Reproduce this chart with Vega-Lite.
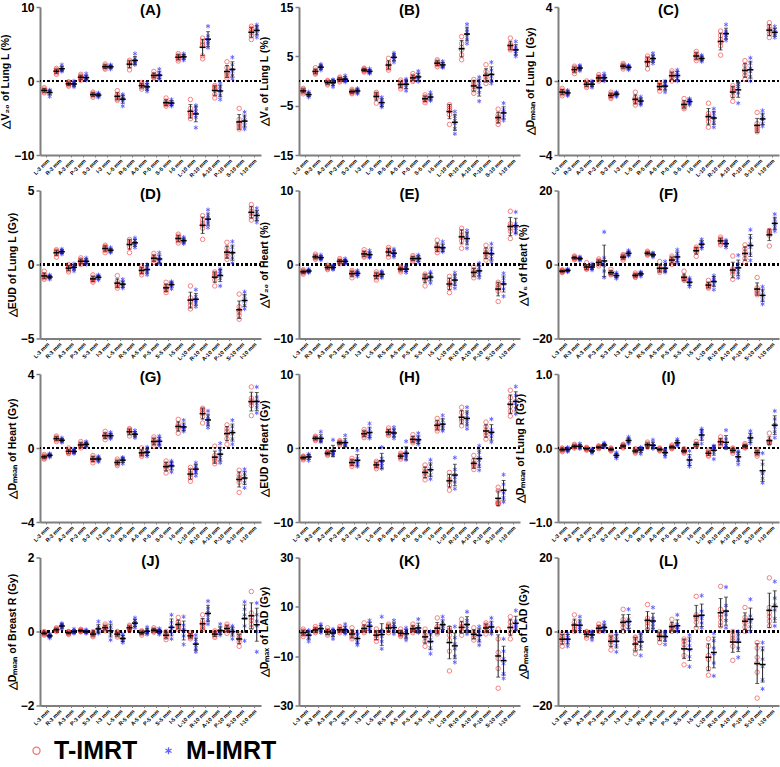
{
"$schema":"https://vega.github.io/schema/vega-lite/v6.json",
"background":"white",
"padding":{"left":0,"top":1,"right":0,"bottom":0},
"columns":3,
"spacing":{"row":35.5,"column":38},
"bounds":"flush",
"datasets":{
"A":[
{"c":"L-3 mm","T-IMRT":[-1.6,-1.45,-1.3,-1.25,-1.1,-0.9],"M-IMRT":[-2.1,-1.7,-1.5,-1.45,-1.35,-1.2]},
{"c":"R-3 mm","T-IMRT":[0.9,1.1,1.3,1.4,1.5,1.7],"M-IMRT":[1.3,1.45,1.55,1.65,1.8,2.2]},
{"c":"A-3 mm","T-IMRT":[-0.7,-0.55,-0.4,-0.35,-0.2,-0.1],"M-IMRT":[-0.8,-0.6,-0.45,-0.35,-0.2,0]},
{"c":"P-3 mm","T-IMRT":[0.1,0.3,0.45,0.55,0.7,0.9],"M-IMRT":[0.1,0.25,0.35,0.45,0.6,1.0]},
{"c":"S-3 mm","T-IMRT":[-2.2,-2.0,-1.85,-1.8,-1.65,-1.5],"M-IMRT":[-2.2,-2.05,-1.95,-1.85,-1.75,-1.6]},
{"c":"I-3 mm","T-IMRT":[1.6,1.75,1.9,1.95,2.1,2.3],"M-IMRT":[1.6,1.8,1.9,1.95,2.05,2.2]},
{"c":"L-5 mm","T-IMRT":[-2.6,-2.45,-2.2,-2.1,-1.8,-1.3],"M-IMRT":[-3.4,-2.7,-2.45,-2.3,-2.1,-1.8]},
{"c":"R-5 mm","T-IMRT":[1.5,2.0,2.3,2.45,2.6,2.8],"M-IMRT":[2.2,2.4,2.6,2.75,3.0,3.7]},
{"c":"A-5 mm","T-IMRT":[-1.1,-0.85,-0.65,-0.55,-0.4,-0.2],"M-IMRT":[-1.4,-1.1,-0.85,-0.7,-0.5,-0.2]},
{"c":"P-5 mm","T-IMRT":[0.4,0.5,0.65,0.75,0.9,1.3],"M-IMRT":[0.2,0.45,0.65,0.8,1.0,1.6]},
{"c":"S-5 mm","T-IMRT":[-3.4,-3.2,-3.05,-2.95,-2.7,-2.3],"M-IMRT":[-3.4,-3.2,-3.05,-2.95,-2.8,-2.5]},
{"c":"I-5 mm","T-IMRT":[2.7,2.95,3.15,3.3,3.45,3.7],"M-IMRT":[2.8,3.05,3.2,3.35,3.5,3.7]},
{"c":"L-10 mm","T-IMRT":[-5.1,-4.7,-4.4,-4.2,-3.7,-2.5],"M-IMRT":[-6.3,-4.9,-4.4,-4.1,-3.7,-3.3]},
{"c":"R-10 mm","T-IMRT":[3.0,3.4,4.8,5.0,5.3,5.8],"M-IMRT":[4.5,5.0,5.3,5.6,6.1,7.4]},
{"c":"A-10 mm","T-IMRT":[-2.3,-1.8,-1.2,-1.0,-0.8,-0.6],"M-IMRT":[-2.5,-1.9,-1.4,-1.2,-0.8,-0.3]},
{"c":"P-10 mm","T-IMRT":[0.4,0.7,1.0,1.2,1.8,2.6],"M-IMRT":[0.3,0.8,1.3,1.6,2.2,3.2]},
{"c":"S-10 mm","T-IMRT":[-6.5,-6.2,-5.9,-5.7,-5.2,-3.7],"M-IMRT":[-6.5,-6.0,-5.6,-5.3,-4.9,-4.2]},
{"c":"I-10 mm","T-IMRT":[5.6,6.1,6.5,6.8,7.1,7.4],"M-IMRT":[5.9,6.4,6.8,7.0,7.3,7.6]}
],
"B":[
{"c":"L-3 mm","T-IMRT":[-2.6,-2.3,-2.05,-1.9,-1.7,-1.5],"M-IMRT":[-3.3,-3.0,-2.85,-2.7,-2.5,-2.2]},
{"c":"R-3 mm","T-IMRT":[1.4,1.6,1.8,1.95,2.2,2.7],"M-IMRT":[2.2,2.5,2.75,2.9,3.1,3.4]},
{"c":"A-3 mm","T-IMRT":[-0.8,-0.55,-0.35,-0.25,-0.05,0.1],"M-IMRT":[-1.2,-0.7,-0.35,-0.15,0.1,0.3]},
{"c":"P-3 mm","T-IMRT":[-0.2,0.05,0.25,0.4,0.6,0.8],"M-IMRT":[-0.2,0.0,0.25,0.4,0.7,1.1]},
{"c":"S-3 mm","T-IMRT":[-2.6,-2.4,-2.25,-2.1,-1.95,-1.7],"M-IMRT":[-2.6,-2.3,-2.05,-1.9,-1.75,-1.5]},
{"c":"I-3 mm","T-IMRT":[1.8,2.0,2.15,2.3,2.45,2.6],"M-IMRT":[1.5,1.7,1.85,2.0,2.2,2.5]},
{"c":"L-5 mm","T-IMRT":[-4.5,-3.4,-3.1,-2.9,-2.6,-2.3],"M-IMRT":[-5.3,-5.0,-4.6,-4.3,-3.8,-3.3]},
{"c":"R-5 mm","T-IMRT":[2.2,2.6,3.0,3.3,3.7,4.6],"M-IMRT":[3.8,4.3,4.7,5.0,5.3,5.7]},
{"c":"A-5 mm","T-IMRT":[-1.6,-1.2,-0.8,-0.6,-0.2,0.2],"M-IMRT":[-2.0,-1.3,-0.7,-0.4,0.0,0.4]},
{"c":"P-5 mm","T-IMRT":[-0.1,0.2,0.5,0.7,1.0,1.5],"M-IMRT":[-0.1,0.3,0.6,0.9,1.3,2.0]},
{"c":"S-5 mm","T-IMRT":[-4.4,-4.0,-3.7,-3.5,-3.2,-2.8],"M-IMRT":[-4.0,-3.7,-3.4,-3.2,-2.9,-2.3]},
{"c":"I-5 mm","T-IMRT":[2.9,3.3,3.5,3.7,4.0,4.3],"M-IMRT":[2.7,2.9,3.1,3.3,3.6,4.0]},
{"c":"L-10 mm","T-IMRT":[-8.8,-6.8,-6.0,-5.6,-5.2,-4.8],"M-IMRT":[-10.7,-9.6,-8.6,-8.0,-7.2,-6.2]},
{"c":"R-10 mm","T-IMRT":[4.3,5.3,6.3,6.8,7.6,9.0],"M-IMRT":[7.6,8.5,9.3,9.8,10.4,11.5]},
{"c":"A-10 mm","T-IMRT":[-2.5,-1.8,-1.1,-0.7,-0.2,0.3],"M-IMRT":[-4.1,-2.3,-1.4,-0.9,-0.2,0.8]},
{"c":"P-10 mm","T-IMRT":[-0.5,0.2,0.8,1.2,1.9,3.3],"M-IMRT":[-0.5,0.2,0.9,1.4,2.2,3.8]},
{"c":"S-10 mm","T-IMRT":[-8.8,-8.2,-7.7,-7.3,-6.8,-5.7],"M-IMRT":[-8.0,-7.4,-6.8,-6.3,-5.8,-4.5]},
{"c":"I-10 mm","T-IMRT":[6.3,6.6,6.9,7.2,7.5,8.7],"M-IMRT":[5.0,5.6,6.0,6.4,6.9,8.0]}
],
"C":[
{"c":"L-3 mm","T-IMRT":[-0.8,-0.7,-0.62,-0.58,-0.5,-0.4],"M-IMRT":[-0.8,-0.72,-0.66,-0.62,-0.57,-0.5]},
{"c":"R-3 mm","T-IMRT":[0.4,0.52,0.6,0.65,0.72,0.8],"M-IMRT":[0.55,0.63,0.68,0.72,0.78,0.85]},
{"c":"A-3 mm","T-IMRT":[-0.35,-0.27,-0.2,-0.16,-0.08,0],"M-IMRT":[-0.35,-0.27,-0.2,-0.15,-0.08,0]},
{"c":"P-3 mm","T-IMRT":[0,0.08,0.14,0.18,0.25,0.35],"M-IMRT":[0,0.08,0.14,0.18,0.27,0.4]},
{"c":"S-3 mm","T-IMRT":[-0.95,-0.87,-0.8,-0.76,-0.7,-0.6],"M-IMRT":[-0.85,-0.77,-0.72,-0.68,-0.64,-0.6]},
{"c":"I-3 mm","T-IMRT":[0.65,0.73,0.79,0.82,0.88,0.95],"M-IMRT":[0.6,0.68,0.73,0.77,0.81,0.85]},
{"c":"L-5 mm","T-IMRT":[-1.3,-1.15,-1.05,-0.97,-0.88,-0.6],"M-IMRT":[-1.3,-1.2,-1.12,-1.06,-0.97,-0.85]},
{"c":"R-5 mm","T-IMRT":[0.65,0.9,1.02,1.1,1.22,1.35],"M-IMRT":[0.95,1.08,1.17,1.24,1.33,1.5]},
{"c":"A-5 mm","T-IMRT":[-0.55,-0.4,-0.3,-0.26,-0.18,-0.1],"M-IMRT":[-0.6,-0.42,-0.3,-0.22,-0.12,0]},
{"c":"P-5 mm","T-IMRT":[0,0.15,0.25,0.33,0.43,0.55],"M-IMRT":[0,0.14,0.25,0.33,0.45,0.6]},
{"c":"S-5 mm","T-IMRT":[-1.5,-1.42,-1.33,-1.27,-1.15,-0.95],"M-IMRT":[-1.3,-1.2,-1.12,-1.07,-1.02,-0.95]},
{"c":"I-5 mm","T-IMRT":[1.1,1.22,1.32,1.38,1.48,1.6],"M-IMRT":[1.05,1.13,1.19,1.23,1.3,1.4]},
{"c":"L-10 mm","T-IMRT":[-2.5,-2.2,-2.0,-1.9,-1.75,-1.2],"M-IMRT":[-2.5,-2.25,-2.05,-1.95,-1.75,-1.5]},
{"c":"R-10 mm","T-IMRT":[1.4,1.9,2.1,2.25,2.45,2.7],"M-IMRT":[2.2,2.35,2.48,2.58,2.7,3.05]},
{"c":"A-10 mm","T-IMRT":[-1.1,-0.8,-0.58,-0.48,-0.38,-0.25],"M-IMRT":[-1.2,-0.65,-0.42,-0.3,-0.2,-0.1]},
{"c":"P-10 mm","T-IMRT":[0.1,0.3,0.48,0.6,0.85,1.1],"M-IMRT":[0,0.25,0.5,0.7,0.95,1.25]},
{"c":"S-10 mm","T-IMRT":[-2.75,-2.65,-2.55,-2.45,-2.3,-1.7],"M-IMRT":[-2.45,-2.3,-2.1,-2.0,-1.85,-1.6]},
{"c":"I-10 mm","T-IMRT":[2.35,2.55,2.7,2.8,2.95,3.15],"M-IMRT":[2.35,2.48,2.58,2.65,2.78,2.95]}
],
"D":[
{"c":"L-3 mm","T-IMRT":[-1.0,-0.9,-0.82,-0.77,-0.68,-0.45],"M-IMRT":[-1.0,-0.92,-0.86,-0.82,-0.77,-0.7]},
{"c":"R-3 mm","T-IMRT":[0.5,0.7,0.8,0.85,0.92,1.0],"M-IMRT":[0.7,0.78,0.84,0.88,0.95,1.05]},
{"c":"A-3 mm","T-IMRT":[-0.5,-0.37,-0.27,-0.22,-0.12,0],"M-IMRT":[-0.45,-0.3,-0.22,-0.16,-0.06,0.05]},
{"c":"P-3 mm","T-IMRT":[0,0.1,0.18,0.24,0.33,0.45],"M-IMRT":[0,0.1,0.18,0.24,0.33,0.45]},
{"c":"S-3 mm","T-IMRT":[-1.2,-1.1,-1.02,-0.96,-0.86,-0.7],"M-IMRT":[-1.05,-0.94,-0.87,-0.83,-0.77,-0.7]},
{"c":"I-3 mm","T-IMRT":[0.8,0.95,1.07,1.14,1.22,1.3],"M-IMRT":[0.8,0.88,0.94,0.98,1.05,1.15]},
{"c":"L-5 mm","T-IMRT":[-1.6,-1.45,-1.35,-1.28,-1.15,-0.75],"M-IMRT":[-1.6,-1.48,-1.38,-1.32,-1.2,-1.0]},
{"c":"R-5 mm","T-IMRT":[0.8,1.2,1.38,1.47,1.58,1.7],"M-IMRT":[1.15,1.3,1.42,1.5,1.62,1.8]},
{"c":"A-5 mm","T-IMRT":[-0.7,-0.55,-0.43,-0.36,-0.25,-0.1],"M-IMRT":[-0.7,-0.5,-0.38,-0.3,-0.17,0]},
{"c":"P-5 mm","T-IMRT":[0.15,0.28,0.37,0.44,0.56,0.75],"M-IMRT":[0.05,0.2,0.3,0.38,0.52,0.8]},
{"c":"S-5 mm","T-IMRT":[-1.9,-1.75,-1.63,-1.55,-1.43,-1.2],"M-IMRT":[-1.65,-1.45,-1.36,-1.3,-1.24,-1.15]},
{"c":"I-5 mm","T-IMRT":[1.45,1.6,1.72,1.8,1.92,2.05],"M-IMRT":[1.4,1.5,1.58,1.63,1.72,1.85]},
{"c":"L-10 mm","T-IMRT":[-3.0,-2.75,-2.55,-2.45,-2.25,-1.45],"M-IMRT":[-2.85,-2.6,-2.45,-2.35,-2.15,-1.7]},
{"c":"R-10 mm","T-IMRT":[1.7,2.45,2.65,2.8,3.0,3.3],"M-IMRT":[2.5,2.8,3.0,3.1,3.3,3.7]},
{"c":"A-10 mm","T-IMRT":[-1.45,-1.05,-0.82,-0.72,-0.6,-0.5],"M-IMRT":[-1.45,-0.95,-0.72,-0.6,-0.45,-0.3]},
{"c":"P-10 mm","T-IMRT":[0.35,0.55,0.7,0.82,1.1,1.5],"M-IMRT":[0.1,0.45,0.7,0.85,1.15,1.55]},
{"c":"S-10 mm","T-IMRT":[-3.7,-3.45,-3.25,-3.1,-2.85,-2.0],"M-IMRT":[-3.0,-2.75,-2.5,-2.35,-2.15,-1.85]},
{"c":"I-10 mm","T-IMRT":[3.0,3.25,3.45,3.6,3.8,4.05],"M-IMRT":[2.85,3.05,3.25,3.38,3.55,3.8]}
],
"E":[
{"c":"L-3 mm","T-IMRT":[-1.3,-1.15,-1.02,-0.95,-0.83,-0.7],"M-IMRT":[-1.1,-1.0,-0.92,-0.87,-0.78,-0.6]},
{"c":"R-3 mm","T-IMRT":[0.7,0.85,0.97,1.05,1.2,1.4],"M-IMRT":[0.6,0.75,0.87,0.95,1.07,1.3]},
{"c":"A-3 mm","T-IMRT":[-0.7,-0.55,-0.43,-0.36,-0.24,-0.1],"M-IMRT":[-0.7,-0.55,-0.43,-0.36,-0.24,-0.1]},
{"c":"P-3 mm","T-IMRT":[0.1,0.25,0.37,0.45,0.6,0.8],"M-IMRT":[0.1,0.25,0.37,0.45,0.6,0.8]},
{"c":"S-3 mm","T-IMRT":[-1.8,-1.45,-1.25,-1.15,-1.0,-0.8],"M-IMRT":[-1.6,-1.4,-1.25,-1.15,-1.0,-0.8]},
{"c":"I-3 mm","T-IMRT":[1.0,1.15,1.32,1.45,1.65,2.0],"M-IMRT":[0.9,1.05,1.22,1.35,1.55,1.9]},
{"c":"L-5 mm","T-IMRT":[-2.1,-1.8,-1.55,-1.42,-1.25,-1.0],"M-IMRT":[-1.8,-1.55,-1.35,-1.25,-1.1,-0.9]},
{"c":"R-5 mm","T-IMRT":[1.0,1.35,1.65,1.8,2.05,2.3],"M-IMRT":[1.0,1.25,1.45,1.58,1.8,2.1]},
{"c":"A-5 mm","T-IMRT":[-1.0,-0.8,-0.63,-0.55,-0.42,-0.3],"M-IMRT":[-1.1,-0.85,-0.65,-0.55,-0.38,-0.2]},
{"c":"P-5 mm","T-IMRT":[0.4,0.6,0.75,0.85,1.0,1.2],"M-IMRT":[0.3,0.55,0.75,0.87,1.05,1.3]},
{"c":"S-5 mm","T-IMRT":[-2.9,-2.1,-1.85,-1.7,-1.5,-1.3],"M-IMRT":[-2.5,-2.0,-1.75,-1.6,-1.35,-1.0]},
{"c":"I-5 mm","T-IMRT":[1.6,1.95,2.2,2.35,2.6,3.3],"M-IMRT":[1.7,1.9,2.1,2.25,2.55,3.1]},
{"c":"L-10 mm","T-IMRT":[-3.8,-3.1,-2.7,-2.5,-2.1,-1.6],"M-IMRT":[-3.2,-2.6,-2.2,-1.95,-1.6,-1.1]},
{"c":"R-10 mm","T-IMRT":[2.2,3.2,3.7,4.0,4.4,4.9],"M-IMRT":[2.2,3.0,3.4,3.7,4.1,4.6]},
{"c":"A-10 mm","T-IMRT":[-1.8,-1.45,-1.15,-1.0,-0.7,-0.3],"M-IMRT":[-1.8,-1.35,-1.0,-0.8,-0.4,0.2]},
{"c":"P-10 mm","T-IMRT":[0.6,1.0,1.4,1.6,2.0,2.6],"M-IMRT":[0.3,0.85,1.3,1.55,2.0,2.8]},
{"c":"S-10 mm","T-IMRT":[-5.0,-3.6,-3.2,-3.0,-2.7,-2.4],"M-IMRT":[-4.3,-3.3,-2.7,-2.4,-1.9,-1.2]},
{"c":"I-10 mm","T-IMRT":[3.5,4.5,4.9,5.2,5.5,7.2],"M-IMRT":[4.2,4.6,4.9,5.1,5.5,7.1]}
],
"F":[
{"c":"L-3 mm","T-IMRT":[-2.2,-2.0,-1.85,-1.75,-1.6,-1.4],"M-IMRT":[-2.0,-1.8,-1.65,-1.55,-1.4,-1.2]},
{"c":"R-3 mm","T-IMRT":[1.3,1.55,1.75,1.85,2.05,2.3],"M-IMRT":[1.1,1.35,1.55,1.65,1.85,2.1]},
{"c":"A-3 mm","T-IMRT":[-1.3,-1.1,-0.9,-0.75,-0.5,0.5],"M-IMRT":[-1.5,-1.1,-0.8,-0.6,-0.3,0.2]},
{"c":"P-3 mm","T-IMRT":[-0.4,0.1,0.5,0.7,1.1,1.5],"M-IMRT":[-3.5,-1.8,-0.3,0.8,1.8,8.8]},
{"c":"S-3 mm","T-IMRT":[-2.8,-2.55,-2.35,-2.25,-2.0,-1.3],"M-IMRT":[-3.8,-3.4,-3.1,-2.9,-2.6,-2.2]},
{"c":"I-3 mm","T-IMRT":[1.2,1.6,1.95,2.15,2.4,2.7],"M-IMRT":[2.3,2.6,2.9,3.1,3.4,3.8]},
{"c":"L-5 mm","T-IMRT":[-3.5,-3.25,-3.05,-2.9,-2.7,-2.3],"M-IMRT":[-3.2,-2.85,-2.55,-2.4,-2.2,-2.0]},
{"c":"R-5 mm","T-IMRT":[2.5,2.75,2.95,3.1,3.3,3.6],"M-IMRT":[2.0,2.3,2.55,2.7,2.95,3.2]},
{"c":"A-5 mm","T-IMRT":[-2.1,-1.7,-1.35,-1.15,-0.7,0.8],"M-IMRT":[-2.1,-1.7,-1.35,-1.15,-0.6,0.8]},
{"c":"P-5 mm","T-IMRT":[0,0.6,1.1,1.4,1.8,2.3],"M-IMRT":[0.3,1.1,1.8,2.2,2.9,4.0]},
{"c":"S-5 mm","T-IMRT":[-4.3,-4.0,-3.75,-3.6,-3.3,-1.8],"M-IMRT":[-6.0,-5.4,-4.9,-4.6,-4.2,-3.6]},
{"c":"I-5 mm","T-IMRT":[2.2,3.3,3.8,4.0,4.3,4.7],"M-IMRT":[4.3,4.8,5.3,5.6,6.1,6.8]},
{"c":"L-10 mm","T-IMRT":[-6.4,-6.1,-5.8,-5.6,-5.2,-4.3],"M-IMRT":[-6.8,-5.5,-4.6,-4.2,-3.6,-3.0]},
{"c":"R-10 mm","T-IMRT":[5.3,5.8,6.3,6.6,6.9,7.4],"M-IMRT":[4.6,5.1,5.5,5.8,6.2,6.6]},
{"c":"A-10 mm","T-IMRT":[-4.0,-2.6,-1.9,-1.6,-1.2,2.3],"M-IMRT":[-3.6,-2.3,-1.4,-0.8,0.2,2.5]},
{"c":"P-10 mm","T-IMRT":[0.5,1.6,2.7,3.4,4.3,5.3],"M-IMRT":[1.1,2.9,4.6,5.6,7.2,9.4]},
{"c":"S-10 mm","T-IMRT":[-8.2,-7.7,-7.2,-6.9,-6.3,-3.5],"M-IMRT":[-10.7,-9.5,-8.6,-8.1,-7.2,-6.0]},
{"c":"I-10 mm","T-IMRT":[5.0,7.9,8.4,8.7,8.9,9.2],"M-IMRT":[9.0,9.9,10.7,11.3,12.2,13.6]}
],
"G":[
{"c":"L-3 mm","T-IMRT":[-0.6,-0.55,-0.5,-0.47,-0.42,-0.35],"M-IMRT":[-0.5,-0.45,-0.41,-0.38,-0.34,-0.3]},
{"c":"R-3 mm","T-IMRT":[0.35,0.43,0.49,0.53,0.58,0.65],"M-IMRT":[0.3,0.36,0.4,0.43,0.48,0.55]},
{"c":"A-3 mm","T-IMRT":[-0.3,-0.26,-0.22,-0.18,-0.1,0],"M-IMRT":[-0.3,-0.25,-0.21,-0.18,-0.12,-0.05]},
{"c":"P-3 mm","T-IMRT":[0,0.08,0.14,0.18,0.25,0.35],"M-IMRT":[0.05,0.12,0.18,0.22,0.28,0.35]},
{"c":"S-3 mm","T-IMRT":[-0.8,-0.68,-0.62,-0.57,-0.5,-0.4],"M-IMRT":[-0.75,-0.67,-0.61,-0.57,-0.52,-0.45]},
{"c":"I-3 mm","T-IMRT":[0.45,0.58,0.64,0.68,0.75,0.9],"M-IMRT":[0.5,0.58,0.64,0.68,0.75,0.85]},
{"c":"L-5 mm","T-IMRT":[-0.95,-0.87,-0.81,-0.77,-0.7,-0.6],"M-IMRT":[-0.85,-0.74,-0.67,-0.62,-0.56,-0.5]},
{"c":"R-5 mm","T-IMRT":[0.65,0.78,0.87,0.93,0.99,1.05],"M-IMRT":[0.55,0.65,0.72,0.77,0.84,0.95]},
{"c":"A-5 mm","T-IMRT":[-0.45,-0.37,-0.31,-0.27,-0.17,0],"M-IMRT":[-0.45,-0.35,-0.27,-0.22,-0.12,0.05]},
{"c":"P-5 mm","T-IMRT":[0.1,0.22,0.32,0.38,0.48,0.6],"M-IMRT":[0.1,0.22,0.32,0.39,0.5,0.65]},
{"c":"S-5 mm","T-IMRT":[-1.35,-1.15,-1.03,-0.96,-0.85,-0.7],"M-IMRT":[-1.3,-1.1,-0.98,-0.92,-0.82,-0.7]},
{"c":"I-5 mm","T-IMRT":[0.8,1.05,1.13,1.18,1.28,1.55],"M-IMRT":[0.9,1.0,1.08,1.13,1.22,1.5]},
{"c":"L-10 mm","T-IMRT":[-1.8,-1.6,-1.45,-1.36,-1.2,-1.05],"M-IMRT":[-1.5,-1.3,-1.18,-1.1,-0.98,-0.8]},
{"c":"R-10 mm","T-IMRT":[1.35,1.7,1.88,1.98,2.08,2.15],"M-IMRT":[1.1,1.3,1.45,1.55,1.7,2.0]},
{"c":"A-10 mm","T-IMRT":[-0.85,-0.7,-0.6,-0.53,-0.4,0.1],"M-IMRT":[-0.8,-0.6,-0.42,-0.32,-0.1,0.25]},
{"c":"P-10 mm","T-IMRT":[0.2,0.5,0.75,0.9,1.05,1.25],"M-IMRT":[0.2,0.5,0.75,0.9,1.15,1.5]},
{"c":"S-10 mm","T-IMRT":[-2.4,-1.85,-1.7,-1.6,-1.45,-1.2],"M-IMRT":[-2.15,-1.85,-1.65,-1.55,-1.4,-1.15]},
{"c":"I-10 mm","T-IMRT":[1.75,2.3,2.45,2.55,2.7,3.3],"M-IMRT":[1.9,2.2,2.4,2.55,2.75,3.3]}
],
"H":[
{"c":"L-3 mm","T-IMRT":[-1.6,-1.45,-1.33,-1.27,-1.18,-1.1],"M-IMRT":[-1.7,-1.4,-1.22,-1.12,-0.98,-0.8]},
{"c":"R-3 mm","T-IMRT":[1.0,1.15,1.27,1.35,1.45,1.6],"M-IMRT":[0.8,1.0,1.12,1.22,1.45,2.2]},
{"c":"A-3 mm","T-IMRT":[-1.0,-0.85,-0.73,-0.67,-0.58,-0.5],"M-IMRT":[-1.0,-0.85,-0.7,-0.6,-0.4,1.1]},
{"c":"P-3 mm","T-IMRT":[0.4,0.55,0.67,0.74,0.85,1.0],"M-IMRT":[0.2,0.4,0.55,0.65,0.9,1.7]},
{"c":"S-3 mm","T-IMRT":[-2.5,-2.25,-2.05,-1.92,-1.7,-1.4],"M-IMRT":[-2.5,-2.15,-1.9,-1.75,-1.4,-0.3]},
{"c":"I-3 mm","T-IMRT":[1.4,1.65,1.85,1.97,2.2,2.5],"M-IMRT":[1.3,1.6,1.85,2.05,2.5,3.3]},
{"c":"L-5 mm","T-IMRT":[-2.8,-2.55,-2.35,-2.22,-2.0,-1.8],"M-IMRT":[-2.8,-2.4,-2.1,-1.85,-1.4,0.1]},
{"c":"R-5 mm","T-IMRT":[1.7,1.9,2.05,2.15,2.4,2.7],"M-IMRT":[1.3,1.65,1.95,2.1,2.4,2.8]},
{"c":"A-5 mm","T-IMRT":[-1.5,-1.3,-1.15,-1.05,-0.9,-0.7],"M-IMRT":[-1.6,-1.2,-1.0,-0.85,-0.55,0.9]},
{"c":"P-5 mm","T-IMRT":[0.7,0.9,1.05,1.15,1.4,1.8],"M-IMRT":[0.5,0.75,0.95,1.1,1.4,2.0]},
{"c":"S-5 mm","T-IMRT":[-4.3,-3.8,-3.4,-3.2,-2.8,-2.3],"M-IMRT":[-4.2,-3.6,-3.1,-2.8,-2.3,-1.6]},
{"c":"I-5 mm","T-IMRT":[2.3,2.6,2.9,3.1,3.5,4.0],"M-IMRT":[2.3,2.7,3.0,3.25,3.7,4.4]},
{"c":"L-10 mm","T-IMRT":[-5.7,-5.0,-4.5,-4.3,-3.8,-3.3],"M-IMRT":[-5.5,-4.6,-4.0,-3.6,-2.9,-1.3]},
{"c":"R-10 mm","T-IMRT":[3.0,3.6,3.9,4.1,4.8,5.5],"M-IMRT":[2.6,3.3,3.8,4.1,4.7,5.5]},
{"c":"A-10 mm","T-IMRT":[-2.9,-2.5,-2.25,-2.1,-1.7,-1.0],"M-IMRT":[-3.0,-2.3,-1.7,-1.3,-0.6,0.3]},
{"c":"P-10 mm","T-IMRT":[1.2,1.7,2.1,2.4,2.9,3.5],"M-IMRT":[0.8,1.5,1.9,2.1,2.5,3.9]},
{"c":"S-10 mm","T-IMRT":[-7.6,-7.5,-7.4,-7.2,-5.8,-5.3],"M-IMRT":[-7.3,-6.7,-6.1,-5.7,-4.9,-3.6]},
{"c":"I-10 mm","T-IMRT":[4.3,5.0,5.6,6.0,6.8,7.8],"M-IMRT":[4.6,5.4,6.0,6.4,7.1,8.3]}
],
"I":[
{"c":"L-3 mm","T-IMRT":[-0.05,-0.035,-0.025,-0.02,-0.01,0],"M-IMRT":[-0.05,-0.035,-0.025,-0.015,-0.005,0.01]},
{"c":"R-3 mm","T-IMRT":[0,0.01,0.02,0.025,0.035,0.05],"M-IMRT":[-0.01,0.005,0.015,0.025,0.04,0.06]},
{"c":"A-3 mm","T-IMRT":[-0.03,-0.02,-0.012,-0.008,0,0.01],"M-IMRT":[-0.07,-0.055,-0.045,-0.035,-0.025,-0.01]},
{"c":"P-3 mm","T-IMRT":[-0.01,0,0.008,0.012,0.02,0.03],"M-IMRT":[0.01,0.025,0.035,0.045,0.055,0.07]},
{"c":"S-3 mm","T-IMRT":[-0.04,-0.03,-0.022,-0.018,-0.01,0],"M-IMRT":[-0.14,-0.12,-0.105,-0.095,-0.08,-0.06]},
{"c":"I-3 mm","T-IMRT":[0,0.015,0.025,0.032,0.04,0.05],"M-IMRT":[0.06,0.08,0.095,0.105,0.12,0.15]},
{"c":"L-5 mm","T-IMRT":[-0.07,-0.055,-0.045,-0.038,-0.025,-0.01],"M-IMRT":[-0.08,-0.045,-0.025,-0.015,0,0.01]},
{"c":"R-5 mm","T-IMRT":[0.01,0.025,0.038,0.045,0.06,0.08],"M-IMRT":[-0.01,0.005,0.02,0.035,0.06,0.11]},
{"c":"A-5 mm","T-IMRT":[-0.04,-0.03,-0.022,-0.018,-0.01,0],"M-IMRT":[-0.12,-0.085,-0.065,-0.05,-0.035,-0.02]},
{"c":"P-5 mm","T-IMRT":[-0.01,0,0.008,0.014,0.025,0.04],"M-IMRT":[0.03,0.045,0.06,0.075,0.09,0.12]},
{"c":"S-5 mm","T-IMRT":[-0.07,-0.055,-0.045,-0.038,-0.025,-0.01],"M-IMRT":[-0.25,-0.22,-0.18,-0.16,-0.12,-0.04]},
{"c":"I-5 mm","T-IMRT":[0.02,0.03,0.038,0.045,0.06,0.09],"M-IMRT":[0.06,0.13,0.17,0.2,0.23,0.26]},
{"c":"L-10 mm","T-IMRT":[-0.11,-0.095,-0.075,-0.065,-0.05,-0.03],"M-IMRT":[-0.15,-0.06,-0.02,0,0.015,0.03]},
{"c":"R-10 mm","T-IMRT":[0.03,0.055,0.075,0.09,0.11,0.15],"M-IMRT":[0,0.01,0.03,0.06,0.12,0.24]},
{"c":"A-10 mm","T-IMRT":[-0.07,-0.05,-0.035,-0.025,-0.012,0],"M-IMRT":[-0.22,-0.16,-0.125,-0.1,-0.07,-0.04]},
{"c":"P-10 mm","T-IMRT":[0,0.01,0.02,0.028,0.04,0.06],"M-IMRT":[0.06,0.09,0.12,0.14,0.18,0.23]},
{"c":"S-10 mm","T-IMRT":[-0.11,-0.085,-0.065,-0.055,-0.04,-0.02],"M-IMRT":[-0.47,-0.41,-0.35,-0.32,-0.22,-0.07]},
{"c":"I-10 mm","T-IMRT":[0.06,0.07,0.08,0.09,0.1,0.2],"M-IMRT":[0.14,0.22,0.28,0.32,0.39,0.5]}
],
"J":[
{"c":"L-3 mm","T-IMRT":[-0.1,-0.075,-0.055,-0.045,-0.025,0],"M-IMRT":[-0.18,-0.15,-0.125,-0.11,-0.09,-0.06]},
{"c":"R-3 mm","T-IMRT":[0,0.025,0.045,0.055,0.075,0.1],"M-IMRT":[0.07,0.11,0.14,0.16,0.19,0.22]},
{"c":"A-3 mm","T-IMRT":[-0.08,-0.06,-0.04,-0.025,-0.01,0],"M-IMRT":[-0.05,-0.03,-0.015,0,0.02,0.07]},
{"c":"P-3 mm","T-IMRT":[-0.01,0.005,0.015,0.025,0.04,0.06],"M-IMRT":[-0.05,-0.03,-0.015,0,0.02,0.05]},
{"c":"S-3 mm","T-IMRT":[-0.14,-0.11,-0.08,-0.06,-0.03,0],"M-IMRT":[-0.05,-0.01,0.03,0.07,0.12,0.27]},
{"c":"I-3 mm","T-IMRT":[0.02,0.06,0.09,0.11,0.15,0.2],"M-IMRT":[-0.23,-0.08,0,0.05,0.12,0.25]},
{"c":"L-5 mm","T-IMRT":[-0.15,-0.11,-0.08,-0.06,-0.03,0],"M-IMRT":[-0.3,-0.25,-0.21,-0.18,-0.13,-0.07]},
{"c":"R-5 mm","T-IMRT":[0.03,0.07,0.09,0.11,0.14,0.17],"M-IMRT":[0.1,0.16,0.2,0.24,0.29,0.37]},
{"c":"A-5 mm","T-IMRT":[-0.1,-0.06,-0.035,-0.02,0,0.02],"M-IMRT":[-0.08,-0.04,-0.01,0.01,0.04,0.12]},
{"c":"P-5 mm","T-IMRT":[-0.02,0.005,0.025,0.04,0.06,0.1],"M-IMRT":[-0.08,-0.04,-0.01,0.01,0.04,0.08]},
{"c":"S-5 mm","T-IMRT":[-0.22,-0.16,-0.11,-0.08,-0.04,0],"M-IMRT":[-0.2,-0.05,0.07,0.15,0.25,0.45]},
{"c":"I-5 mm","T-IMRT":[0.05,0.1,0.15,0.19,0.26,0.38],"M-IMRT":[-0.35,-0.12,0,0.06,0.17,0.4]},
{"c":"L-10 mm","T-IMRT":[-0.2,-0.16,-0.13,-0.11,-0.07,-0.03],"M-IMRT":[-0.55,-0.47,-0.38,-0.32,-0.22,-0.1]},
{"c":"R-10 mm","T-IMRT":[0.05,0.1,0.16,0.21,0.28,0.45],"M-IMRT":[0.2,0.32,0.44,0.52,0.63,0.82]},
{"c":"A-10 mm","T-IMRT":[-0.16,-0.12,-0.08,-0.06,-0.02,0.02],"M-IMRT":[-0.1,-0.04,-0.01,0.02,0.08,0.2]},
{"c":"P-10 mm","T-IMRT":[-0.05,0.02,0.07,0.1,0.14,0.2],"M-IMRT":[-0.2,-0.07,0,0.03,0.07,0.15]},
{"c":"S-10 mm","T-IMRT":[-0.4,-0.28,-0.21,-0.17,-0.1,-0.05],"M-IMRT":[-0.25,0.15,0.35,0.45,0.6,0.8]},
{"c":"I-10 mm","T-IMRT":[0.1,0.2,0.3,0.37,0.5,1.08],"M-IMRT":[-0.55,0,0.15,0.28,0.45,0.77]}
],
"K":[
{"c":"L-3 mm","T-IMRT":[-2,-1.2,-0.6,-0.3,0.3,1],"M-IMRT":[-4,-2.6,-1.6,-1,-0.2,0.5]},
{"c":"R-3 mm","T-IMRT":[-0.5,0,0.4,0.7,1.2,2],"M-IMRT":[-0.5,0.2,0.8,1.3,2,3]},
{"c":"A-3 mm","T-IMRT":[-1.5,-0.9,-0.4,-0.1,0.5,1.5],"M-IMRT":[-3,-1.5,-0.6,-0.1,0.4,1]},
{"c":"P-3 mm","T-IMRT":[-0.5,0.1,0.5,0.8,1.3,2],"M-IMRT":[-1,-0.3,0.3,0.8,1.5,3]},
{"c":"S-3 mm","T-IMRT":[-3,-2.2,-1.4,-0.9,-0.1,1.5],"M-IMRT":[-5.5,-4.3,-3.2,-2.6,-1.5,0]},
{"c":"I-3 mm","T-IMRT":[-0.5,0.2,0.8,1.2,2,3.5],"M-IMRT":[0,0.9,1.8,2.4,3.2,4.5]},
{"c":"L-5 mm","T-IMRT":[-4,-2.8,-1.7,-1.2,-0.3,1],"M-IMRT":[-7,-4,-2,-0.8,0.5,6]},
{"c":"R-5 mm","T-IMRT":[-0.5,0.5,1.3,1.8,2.4,3],"M-IMRT":[-1,0.2,1.2,1.9,2.8,4.5]},
{"c":"A-5 mm","T-IMRT":[-2,-1.5,-1,-0.6,-0.1,1],"M-IMRT":[-3.5,-2.2,-1.1,-0.5,0.3,1.5]},
{"c":"P-5 mm","T-IMRT":[-0.5,0.2,0.8,1.2,1.8,3],"M-IMRT":[-0.5,0.2,0.8,1.2,2,5]},
{"c":"S-5 mm","T-IMRT":[-6,-4,-2.3,-1.5,-0.3,1],"M-IMRT":[-9,-6.5,-4.3,-3.2,-1.5,0]},
{"c":"I-5 mm","T-IMRT":[-1,-0.2,0.6,1.1,2,5.5],"M-IMRT":[0.5,1.3,2.2,2.8,3.8,6]},
{"c":"L-10 mm","T-IMRT":[-16,-8,-3.5,-1.5,0.5,1.5],"M-IMRT":[-12.5,-10,-7,-5,-2.5,2]},
{"c":"R-10 mm","T-IMRT":[-1.5,0,1.3,2,3.2,5],"M-IMRT":[-1,0.5,2,3,4.5,8]},
{"c":"A-10 mm","T-IMRT":[-3.5,-2.5,-1.5,-0.8,0,1.5],"M-IMRT":[-5.5,-3.5,-1.8,-0.9,0.3,2]},
{"c":"P-10 mm","T-IMRT":[-1,0.2,1.3,1.9,2.7,3.5],"M-IMRT":[-1,0.2,1.3,2,3.2,5.5]},
{"c":"S-10 mm","T-IMRT":[-23,-15,-11,-8.5,-3,1],"M-IMRT":[-19,-17,-13,-11,-8,-3]},
{"c":"I-10 mm","T-IMRT":[-3,-0.5,1.2,2.2,3.8,6],"M-IMRT":[0.5,1.4,2.3,3,4.3,8.5]}
],
"L":[
{"c":"L-3 mm","T-IMRT":[-4,-3,-2.2,-1.7,-1.1,-0.5],"M-IMRT":[-4,-3,-2.2,-1.7,-1.1,-0.5]},
{"c":"R-3 mm","T-IMRT":[0,0.6,1.2,1.7,2.5,4.5],"M-IMRT":[0,0.6,1.2,1.8,2.6,4]},
{"c":"A-3 mm","T-IMRT":[-1.8,-1.2,-0.8,-0.5,-0.2,0],"M-IMRT":[-2.3,-1.4,-0.9,-0.6,-0.2,0]},
{"c":"P-3 mm","T-IMRT":[0,0.4,0.7,0.9,1.3,2],"M-IMRT":[0,0.5,0.9,1.2,1.5,2.5]},
{"c":"S-3 mm","T-IMRT":[-5,-3.6,-2.7,-2.2,-1.5,-1],"M-IMRT":[-5.5,-3.8,-2.7,-2.1,-1.3,-0.5]},
{"c":"I-3 mm","T-IMRT":[0,1.1,2,2.5,3.2,6],"M-IMRT":[0.5,1.4,2.2,2.7,3.4,6]},
{"c":"L-5 mm","T-IMRT":[-6,-5,-3.5,-2.6,-1.8,-1.5],"M-IMRT":[-6.5,-4,-2.7,-2,-1.2,-0.5]},
{"c":"R-5 mm","T-IMRT":[0.5,1.5,2.3,2.9,3.6,7.3],"M-IMRT":[0.5,1.4,2.2,2.8,3.6,6.5]},
{"c":"A-5 mm","T-IMRT":[-3,-2,-1.3,-1,-0.5,0],"M-IMRT":[-3.5,-2.2,-1.3,-0.9,-0.4,0]},
{"c":"P-5 mm","T-IMRT":[0,0.5,1,1.3,1.8,3.3],"M-IMRT":[0,0.5,1,1.3,2,4.5]},
{"c":"S-5 mm","T-IMRT":[-9,-6.5,-4.5,-3.5,-2.6,-2],"M-IMRT":[-9.5,-6.8,-5,-3.8,-2.5,-1]},
{"c":"I-5 mm","T-IMRT":[1,2.5,3.5,4,4.5,9.5],"M-IMRT":[1,2.3,3.5,4.3,5.5,9.7]},
{"c":"L-10 mm","T-IMRT":[-11.8,-10,-7.5,-6.5,-4,-2],"M-IMRT":[-12,-8.5,-6,-4.5,-2.5,-0.5]},
{"c":"R-10 mm","T-IMRT":[1.5,2.5,3.8,4.5,6,12.2],"M-IMRT":[1,3,4.5,5.5,7,12]},
{"c":"A-10 mm","T-IMRT":[-7.8,-4,-2.5,-1.8,-1,0],"M-IMRT":[-7,-4.5,-2.8,-2,-1,0]},
{"c":"P-10 mm","T-IMRT":[0,1.2,2.3,2.9,3.8,6.5],"M-IMRT":[0,1.3,2.5,3.2,4.2,8.7]},
{"c":"S-10 mm","T-IMRT":[-18,-11,-8.5,-7,-4.5,-3],"M-IMRT":[-15.5,-13,-9.5,-7.5,-5,-3]},
{"c":"I-10 mm","T-IMRT":[1.5,2.8,4,5,6.5,14.5],"M-IMRT":[1.5,3.5,5.8,7.2,9,13.5]}
]
},
"concat":[
{"width":221,"height":148,"title":"(A)","data":{"name":"A"},"transform":[{"fold":["T-IMRT","M-IMRT"],"as":["g","v"]},{"flatten":["v"]}],
"layer":[
{"mark":{"type":"rule","strokeDash":[2,2.5],"strokeWidth":1.6,"color":"black"},"encoding":{"y":{"datum":0,"type":"quantitative","title":"△V₂₀ of Lung L (%)"}}},
{"mark":{"type":"point","filled":false,"size":20,"strokeWidth":0.9},"encoding":{"x":{"field":"c","type":"nominal","sort":null,"title":null,"scale":{"paddingInner":0.2,"paddingOuter":0.17}},"xOffset":{"field":"g","type":"nominal","sort":["T-IMRT","M-IMRT"],"scale":{"paddingInner":0.2}},"y":{"field":"v","type":"quantitative","title":"△V₂₀ of Lung L (%)","scale":{"domain":[-10,10],"nice":false,"zero":false},"axis":{"values":[-10,-5,0,5,10]}},"color":{"field":"g","type":"nominal","scale":{"domain":["T-IMRT","M-IMRT"],"range":["#ef3b3b","#1c1cff"]},"legend":{"title":null}},"shape":{"field":"g","type":"nominal","scale":{"domain":["T-IMRT","M-IMRT"],"range":["circle","M0,-1L0,1M-0.87,-0.5L0.87,0.5M-0.87,0.5L0.87,-0.5"]},"legend":{"title":null}}}},
{"mark":{"type":"errorbar","extent":"stdev","color":"#222","ticks":{"size":4},"thickness":1},"encoding":{"x":{"field":"c","type":"nominal","sort":null,"title":null},"xOffset":{"field":"g","type":"nominal","sort":["T-IMRT","M-IMRT"]},"y":{"field":"v","type":"quantitative","title":"△V₂₀ of Lung L (%)"}}},
{"mark":{"type":"tick","color":"black","size":6,"thickness":1.5},"encoding":{"x":{"field":"c","type":"nominal","sort":null,"title":null},"xOffset":{"field":"g","type":"nominal","sort":["T-IMRT","M-IMRT"]},"y":{"aggregate":"mean","field":"v","type":"quantitative","title":"△V₂₀ of Lung L (%)"}}}
]},
{"width":221,"height":148,"title":"(B)","data":{"name":"B"},"transform":[{"fold":["T-IMRT","M-IMRT"],"as":["g","v"]},{"flatten":["v"]}],
"layer":[
{"mark":{"type":"rule","strokeDash":[2,2.5],"strokeWidth":1.6,"color":"black"},"encoding":{"y":{"datum":0,"type":"quantitative","title":"△V₅ of Lung L (%)"}}},
{"mark":{"type":"point","filled":false,"size":20,"strokeWidth":0.9},"encoding":{"x":{"field":"c","type":"nominal","sort":null,"title":null,"scale":{"paddingInner":0.2,"paddingOuter":0.17}},"xOffset":{"field":"g","type":"nominal","sort":["T-IMRT","M-IMRT"],"scale":{"paddingInner":0.2}},"y":{"field":"v","type":"quantitative","title":"△V₅ of Lung L (%)","scale":{"domain":[-15,15],"nice":false,"zero":false},"axis":{"values":[-15,-10,-5,0,5,10,15]}},"color":{"field":"g","type":"nominal","scale":{"domain":["T-IMRT","M-IMRT"],"range":["#ef3b3b","#1c1cff"]},"legend":{"title":null}},"shape":{"field":"g","type":"nominal","scale":{"domain":["T-IMRT","M-IMRT"],"range":["circle","M0,-1L0,1M-0.87,-0.5L0.87,0.5M-0.87,0.5L0.87,-0.5"]},"legend":{"title":null}}}},
{"mark":{"type":"errorbar","extent":"stdev","color":"#222","ticks":{"size":4},"thickness":1},"encoding":{"x":{"field":"c","type":"nominal","sort":null,"title":null},"xOffset":{"field":"g","type":"nominal","sort":["T-IMRT","M-IMRT"]},"y":{"field":"v","type":"quantitative","title":"△V₅ of Lung L (%)"}}},
{"mark":{"type":"tick","color":"black","size":6,"thickness":1.5},"encoding":{"x":{"field":"c","type":"nominal","sort":null,"title":null},"xOffset":{"field":"g","type":"nominal","sort":["T-IMRT","M-IMRT"]},"y":{"aggregate":"mean","field":"v","type":"quantitative","title":"△V₅ of Lung L (%)"}}}
]},
{"width":221,"height":148,"title":"(C)","data":{"name":"C"},"transform":[{"fold":["T-IMRT","M-IMRT"],"as":["g","v"]},{"flatten":["v"]}],
"layer":[
{"mark":{"type":"rule","strokeDash":[2,2.5],"strokeWidth":1.6,"color":"black"},"encoding":{"y":{"datum":0,"type":"quantitative","title":"△Dₘₑₐₙ of Lung L (Gy)"}}},
{"mark":{"type":"point","filled":false,"size":20,"strokeWidth":0.9},"encoding":{"x":{"field":"c","type":"nominal","sort":null,"title":null,"scale":{"paddingInner":0.2,"paddingOuter":0.17}},"xOffset":{"field":"g","type":"nominal","sort":["T-IMRT","M-IMRT"],"scale":{"paddingInner":0.2}},"y":{"field":"v","type":"quantitative","title":"△Dₘₑₐₙ of Lung L (Gy)","scale":{"domain":[-4,4],"nice":false,"zero":false},"axis":{"values":[-4,-2,0,2,4]}},"color":{"field":"g","type":"nominal","scale":{"domain":["T-IMRT","M-IMRT"],"range":["#ef3b3b","#1c1cff"]},"legend":{"title":null}},"shape":{"field":"g","type":"nominal","scale":{"domain":["T-IMRT","M-IMRT"],"range":["circle","M0,-1L0,1M-0.87,-0.5L0.87,0.5M-0.87,0.5L0.87,-0.5"]},"legend":{"title":null}}}},
{"mark":{"type":"errorbar","extent":"stdev","color":"#222","ticks":{"size":4},"thickness":1},"encoding":{"x":{"field":"c","type":"nominal","sort":null,"title":null},"xOffset":{"field":"g","type":"nominal","sort":["T-IMRT","M-IMRT"]},"y":{"field":"v","type":"quantitative","title":"△Dₘₑₐₙ of Lung L (Gy)"}}},
{"mark":{"type":"tick","color":"black","size":6,"thickness":1.5},"encoding":{"x":{"field":"c","type":"nominal","sort":null,"title":null},"xOffset":{"field":"g","type":"nominal","sort":["T-IMRT","M-IMRT"]},"y":{"aggregate":"mean","field":"v","type":"quantitative","title":"△Dₘₑₐₙ of Lung L (Gy)"}}}
]},
{"width":221,"height":148,"title":"(D)","data":{"name":"D"},"transform":[{"fold":["T-IMRT","M-IMRT"],"as":["g","v"]},{"flatten":["v"]}],
"layer":[
{"mark":{"type":"rule","strokeDash":[2,2.5],"strokeWidth":1.6,"color":"black"},"encoding":{"y":{"datum":0,"type":"quantitative","title":"△EUD of Lung L (Gy)"}}},
{"mark":{"type":"point","filled":false,"size":20,"strokeWidth":0.9},"encoding":{"x":{"field":"c","type":"nominal","sort":null,"title":null,"scale":{"paddingInner":0.2,"paddingOuter":0.17}},"xOffset":{"field":"g","type":"nominal","sort":["T-IMRT","M-IMRT"],"scale":{"paddingInner":0.2}},"y":{"field":"v","type":"quantitative","title":"△EUD of Lung L (Gy)","scale":{"domain":[-5,5],"nice":false,"zero":false},"axis":{"values":[-5,0,5]}},"color":{"field":"g","type":"nominal","scale":{"domain":["T-IMRT","M-IMRT"],"range":["#ef3b3b","#1c1cff"]},"legend":{"title":null}},"shape":{"field":"g","type":"nominal","scale":{"domain":["T-IMRT","M-IMRT"],"range":["circle","M0,-1L0,1M-0.87,-0.5L0.87,0.5M-0.87,0.5L0.87,-0.5"]},"legend":{"title":null}}}},
{"mark":{"type":"errorbar","extent":"stdev","color":"#222","ticks":{"size":4},"thickness":1},"encoding":{"x":{"field":"c","type":"nominal","sort":null,"title":null},"xOffset":{"field":"g","type":"nominal","sort":["T-IMRT","M-IMRT"]},"y":{"field":"v","type":"quantitative","title":"△EUD of Lung L (Gy)"}}},
{"mark":{"type":"tick","color":"black","size":6,"thickness":1.5},"encoding":{"x":{"field":"c","type":"nominal","sort":null,"title":null},"xOffset":{"field":"g","type":"nominal","sort":["T-IMRT","M-IMRT"]},"y":{"aggregate":"mean","field":"v","type":"quantitative","title":"△EUD of Lung L (Gy)"}}}
]},
{"width":221,"height":148,"title":"(E)","data":{"name":"E"},"transform":[{"fold":["T-IMRT","M-IMRT"],"as":["g","v"]},{"flatten":["v"]}],
"layer":[
{"mark":{"type":"rule","strokeDash":[2,2.5],"strokeWidth":1.6,"color":"black"},"encoding":{"y":{"datum":0,"type":"quantitative","title":"△V₂₀ of Heart (%)"}}},
{"mark":{"type":"point","filled":false,"size":20,"strokeWidth":0.9},"encoding":{"x":{"field":"c","type":"nominal","sort":null,"title":null,"scale":{"paddingInner":0.2,"paddingOuter":0.17}},"xOffset":{"field":"g","type":"nominal","sort":["T-IMRT","M-IMRT"],"scale":{"paddingInner":0.2}},"y":{"field":"v","type":"quantitative","title":"△V₂₀ of Heart (%)","scale":{"domain":[-10,10],"nice":false,"zero":false},"axis":{"values":[-10,-5,0,5,10]}},"color":{"field":"g","type":"nominal","scale":{"domain":["T-IMRT","M-IMRT"],"range":["#ef3b3b","#1c1cff"]},"legend":{"title":null}},"shape":{"field":"g","type":"nominal","scale":{"domain":["T-IMRT","M-IMRT"],"range":["circle","M0,-1L0,1M-0.87,-0.5L0.87,0.5M-0.87,0.5L0.87,-0.5"]},"legend":{"title":null}}}},
{"mark":{"type":"errorbar","extent":"stdev","color":"#222","ticks":{"size":4},"thickness":1},"encoding":{"x":{"field":"c","type":"nominal","sort":null,"title":null},"xOffset":{"field":"g","type":"nominal","sort":["T-IMRT","M-IMRT"]},"y":{"field":"v","type":"quantitative","title":"△V₂₀ of Heart (%)"}}},
{"mark":{"type":"tick","color":"black","size":6,"thickness":1.5},"encoding":{"x":{"field":"c","type":"nominal","sort":null,"title":null},"xOffset":{"field":"g","type":"nominal","sort":["T-IMRT","M-IMRT"]},"y":{"aggregate":"mean","field":"v","type":"quantitative","title":"△V₂₀ of Heart (%)"}}}
]},
{"width":221,"height":148,"title":"(F)","data":{"name":"F"},"transform":[{"fold":["T-IMRT","M-IMRT"],"as":["g","v"]},{"flatten":["v"]}],
"layer":[
{"mark":{"type":"rule","strokeDash":[2,2.5],"strokeWidth":1.6,"color":"black"},"encoding":{"y":{"datum":0,"type":"quantitative","title":"△V₅ of Heart (%)"}}},
{"mark":{"type":"point","filled":false,"size":20,"strokeWidth":0.9},"encoding":{"x":{"field":"c","type":"nominal","sort":null,"title":null,"scale":{"paddingInner":0.2,"paddingOuter":0.17}},"xOffset":{"field":"g","type":"nominal","sort":["T-IMRT","M-IMRT"],"scale":{"paddingInner":0.2}},"y":{"field":"v","type":"quantitative","title":"△V₅ of Heart (%)","scale":{"domain":[-20,20],"nice":false,"zero":false},"axis":{"values":[-20,-10,0,10,20]}},"color":{"field":"g","type":"nominal","scale":{"domain":["T-IMRT","M-IMRT"],"range":["#ef3b3b","#1c1cff"]},"legend":{"title":null}},"shape":{"field":"g","type":"nominal","scale":{"domain":["T-IMRT","M-IMRT"],"range":["circle","M0,-1L0,1M-0.87,-0.5L0.87,0.5M-0.87,0.5L0.87,-0.5"]},"legend":{"title":null}}}},
{"mark":{"type":"errorbar","extent":"stdev","color":"#222","ticks":{"size":4},"thickness":1},"encoding":{"x":{"field":"c","type":"nominal","sort":null,"title":null},"xOffset":{"field":"g","type":"nominal","sort":["T-IMRT","M-IMRT"]},"y":{"field":"v","type":"quantitative","title":"△V₅ of Heart (%)"}}},
{"mark":{"type":"tick","color":"black","size":6,"thickness":1.5},"encoding":{"x":{"field":"c","type":"nominal","sort":null,"title":null},"xOffset":{"field":"g","type":"nominal","sort":["T-IMRT","M-IMRT"]},"y":{"aggregate":"mean","field":"v","type":"quantitative","title":"△V₅ of Heart (%)"}}}
]},
{"width":221,"height":148,"title":"(G)","data":{"name":"G"},"transform":[{"fold":["T-IMRT","M-IMRT"],"as":["g","v"]},{"flatten":["v"]}],
"layer":[
{"mark":{"type":"rule","strokeDash":[2,2.5],"strokeWidth":1.6,"color":"black"},"encoding":{"y":{"datum":0,"type":"quantitative","title":"△Dₘₑₐₙ of Heart (Gy)"}}},
{"mark":{"type":"point","filled":false,"size":20,"strokeWidth":0.9},"encoding":{"x":{"field":"c","type":"nominal","sort":null,"title":null,"scale":{"paddingInner":0.2,"paddingOuter":0.17}},"xOffset":{"field":"g","type":"nominal","sort":["T-IMRT","M-IMRT"],"scale":{"paddingInner":0.2}},"y":{"field":"v","type":"quantitative","title":"△Dₘₑₐₙ of Heart (Gy)","scale":{"domain":[-4,4],"nice":false,"zero":false},"axis":{"values":[-4,-2,0,2,4]}},"color":{"field":"g","type":"nominal","scale":{"domain":["T-IMRT","M-IMRT"],"range":["#ef3b3b","#1c1cff"]},"legend":{"title":null}},"shape":{"field":"g","type":"nominal","scale":{"domain":["T-IMRT","M-IMRT"],"range":["circle","M0,-1L0,1M-0.87,-0.5L0.87,0.5M-0.87,0.5L0.87,-0.5"]},"legend":{"title":null}}}},
{"mark":{"type":"errorbar","extent":"stdev","color":"#222","ticks":{"size":4},"thickness":1},"encoding":{"x":{"field":"c","type":"nominal","sort":null,"title":null},"xOffset":{"field":"g","type":"nominal","sort":["T-IMRT","M-IMRT"]},"y":{"field":"v","type":"quantitative","title":"△Dₘₑₐₙ of Heart (Gy)"}}},
{"mark":{"type":"tick","color":"black","size":6,"thickness":1.5},"encoding":{"x":{"field":"c","type":"nominal","sort":null,"title":null},"xOffset":{"field":"g","type":"nominal","sort":["T-IMRT","M-IMRT"]},"y":{"aggregate":"mean","field":"v","type":"quantitative","title":"△Dₘₑₐₙ of Heart (Gy)"}}}
]},
{"width":221,"height":148,"title":"(H)","data":{"name":"H"},"transform":[{"fold":["T-IMRT","M-IMRT"],"as":["g","v"]},{"flatten":["v"]}],
"layer":[
{"mark":{"type":"rule","strokeDash":[2,2.5],"strokeWidth":1.6,"color":"black"},"encoding":{"y":{"datum":0,"type":"quantitative","title":"△EUD of Heart (Gy)"}}},
{"mark":{"type":"point","filled":false,"size":20,"strokeWidth":0.9},"encoding":{"x":{"field":"c","type":"nominal","sort":null,"title":null,"scale":{"paddingInner":0.2,"paddingOuter":0.17}},"xOffset":{"field":"g","type":"nominal","sort":["T-IMRT","M-IMRT"],"scale":{"paddingInner":0.2}},"y":{"field":"v","type":"quantitative","title":"△EUD of Heart (Gy)","scale":{"domain":[-10,10],"nice":false,"zero":false},"axis":{"values":[-10,-5,0,5,10]}},"color":{"field":"g","type":"nominal","scale":{"domain":["T-IMRT","M-IMRT"],"range":["#ef3b3b","#1c1cff"]},"legend":{"title":null}},"shape":{"field":"g","type":"nominal","scale":{"domain":["T-IMRT","M-IMRT"],"range":["circle","M0,-1L0,1M-0.87,-0.5L0.87,0.5M-0.87,0.5L0.87,-0.5"]},"legend":{"title":null}}}},
{"mark":{"type":"errorbar","extent":"stdev","color":"#222","ticks":{"size":4},"thickness":1},"encoding":{"x":{"field":"c","type":"nominal","sort":null,"title":null},"xOffset":{"field":"g","type":"nominal","sort":["T-IMRT","M-IMRT"]},"y":{"field":"v","type":"quantitative","title":"△EUD of Heart (Gy)"}}},
{"mark":{"type":"tick","color":"black","size":6,"thickness":1.5},"encoding":{"x":{"field":"c","type":"nominal","sort":null,"title":null},"xOffset":{"field":"g","type":"nominal","sort":["T-IMRT","M-IMRT"]},"y":{"aggregate":"mean","field":"v","type":"quantitative","title":"△EUD of Heart (Gy)"}}}
]},
{"width":221,"height":148,"title":"(I)","data":{"name":"I"},"transform":[{"fold":["T-IMRT","M-IMRT"],"as":["g","v"]},{"flatten":["v"]}],
"layer":[
{"mark":{"type":"rule","strokeDash":[2,2.5],"strokeWidth":1.6,"color":"black"},"encoding":{"y":{"datum":0,"type":"quantitative","title":"△Dₘₑₐₙ of Lung R (Gy)"}}},
{"mark":{"type":"point","filled":false,"size":20,"strokeWidth":0.9},"encoding":{"x":{"field":"c","type":"nominal","sort":null,"title":null,"scale":{"paddingInner":0.2,"paddingOuter":0.17}},"xOffset":{"field":"g","type":"nominal","sort":["T-IMRT","M-IMRT"],"scale":{"paddingInner":0.2}},"y":{"field":"v","type":"quantitative","title":"△Dₘₑₐₙ of Lung R (Gy)","scale":{"domain":[-1,1],"nice":false,"zero":false},"axis":{"values":[-1,-0.5,0,0.5,1],"format":".1f"}},"color":{"field":"g","type":"nominal","scale":{"domain":["T-IMRT","M-IMRT"],"range":["#ef3b3b","#1c1cff"]},"legend":{"title":null}},"shape":{"field":"g","type":"nominal","scale":{"domain":["T-IMRT","M-IMRT"],"range":["circle","M0,-1L0,1M-0.87,-0.5L0.87,0.5M-0.87,0.5L0.87,-0.5"]},"legend":{"title":null}}}},
{"mark":{"type":"errorbar","extent":"stdev","color":"#222","ticks":{"size":4},"thickness":1},"encoding":{"x":{"field":"c","type":"nominal","sort":null,"title":null},"xOffset":{"field":"g","type":"nominal","sort":["T-IMRT","M-IMRT"]},"y":{"field":"v","type":"quantitative","title":"△Dₘₑₐₙ of Lung R (Gy)"}}},
{"mark":{"type":"tick","color":"black","size":6,"thickness":1.5},"encoding":{"x":{"field":"c","type":"nominal","sort":null,"title":null},"xOffset":{"field":"g","type":"nominal","sort":["T-IMRT","M-IMRT"]},"y":{"aggregate":"mean","field":"v","type":"quantitative","title":"△Dₘₑₐₙ of Lung R (Gy)"}}}
]},
{"width":221,"height":148,"title":"(J)","data":{"name":"J"},"transform":[{"fold":["T-IMRT","M-IMRT"],"as":["g","v"]},{"flatten":["v"]}],
"layer":[
{"mark":{"type":"rule","strokeDash":[2,2.5],"strokeWidth":1.6,"color":"black"},"encoding":{"y":{"datum":0,"type":"quantitative","title":"△Dₘₑₐₙ of Breast R (Gy)"}}},
{"mark":{"type":"point","filled":false,"size":20,"strokeWidth":0.9},"encoding":{"x":{"field":"c","type":"nominal","sort":null,"title":null,"scale":{"paddingInner":0.2,"paddingOuter":0.17}},"xOffset":{"field":"g","type":"nominal","sort":["T-IMRT","M-IMRT"],"scale":{"paddingInner":0.2}},"y":{"field":"v","type":"quantitative","title":"△Dₘₑₐₙ of Breast R (Gy)","scale":{"domain":[-2,2],"nice":false,"zero":false},"axis":{"values":[-2,-1,0,1,2]}},"color":{"field":"g","type":"nominal","scale":{"domain":["T-IMRT","M-IMRT"],"range":["#ef3b3b","#1c1cff"]},"legend":{"title":null}},"shape":{"field":"g","type":"nominal","scale":{"domain":["T-IMRT","M-IMRT"],"range":["circle","M0,-1L0,1M-0.87,-0.5L0.87,0.5M-0.87,0.5L0.87,-0.5"]},"legend":{"title":null}}}},
{"mark":{"type":"errorbar","extent":"stdev","color":"#222","ticks":{"size":4},"thickness":1},"encoding":{"x":{"field":"c","type":"nominal","sort":null,"title":null},"xOffset":{"field":"g","type":"nominal","sort":["T-IMRT","M-IMRT"]},"y":{"field":"v","type":"quantitative","title":"△Dₘₑₐₙ of Breast R (Gy)"}}},
{"mark":{"type":"tick","color":"black","size":6,"thickness":1.5},"encoding":{"x":{"field":"c","type":"nominal","sort":null,"title":null},"xOffset":{"field":"g","type":"nominal","sort":["T-IMRT","M-IMRT"]},"y":{"aggregate":"mean","field":"v","type":"quantitative","title":"△Dₘₑₐₙ of Breast R (Gy)"}}}
]},
{"width":221,"height":148,"title":"(K)","data":{"name":"K"},"transform":[{"fold":["T-IMRT","M-IMRT"],"as":["g","v"]},{"flatten":["v"]}],
"layer":[
{"mark":{"type":"rule","strokeDash":[2,2.5],"strokeWidth":1.6,"color":"black"},"encoding":{"y":{"datum":0,"type":"quantitative","title":"△Dₘₐₓ of LAD (Gy)"}}},
{"mark":{"type":"point","filled":false,"size":20,"strokeWidth":0.9},"encoding":{"x":{"field":"c","type":"nominal","sort":null,"title":null,"scale":{"paddingInner":0.2,"paddingOuter":0.17}},"xOffset":{"field":"g","type":"nominal","sort":["T-IMRT","M-IMRT"],"scale":{"paddingInner":0.2}},"y":{"field":"v","type":"quantitative","title":"△Dₘₐₓ of LAD (Gy)","scale":{"domain":[-30,30],"nice":false,"zero":false},"axis":{"values":[-30,-20,-10,0,10,20,30]}},"color":{"field":"g","type":"nominal","scale":{"domain":["T-IMRT","M-IMRT"],"range":["#ef3b3b","#1c1cff"]},"legend":{"title":null}},"shape":{"field":"g","type":"nominal","scale":{"domain":["T-IMRT","M-IMRT"],"range":["circle","M0,-1L0,1M-0.87,-0.5L0.87,0.5M-0.87,0.5L0.87,-0.5"]},"legend":{"title":null}}}},
{"mark":{"type":"errorbar","extent":"stdev","color":"#222","ticks":{"size":4},"thickness":1},"encoding":{"x":{"field":"c","type":"nominal","sort":null,"title":null},"xOffset":{"field":"g","type":"nominal","sort":["T-IMRT","M-IMRT"]},"y":{"field":"v","type":"quantitative","title":"△Dₘₐₓ of LAD (Gy)"}}},
{"mark":{"type":"tick","color":"black","size":6,"thickness":1.5},"encoding":{"x":{"field":"c","type":"nominal","sort":null,"title":null},"xOffset":{"field":"g","type":"nominal","sort":["T-IMRT","M-IMRT"]},"y":{"aggregate":"mean","field":"v","type":"quantitative","title":"△Dₘₐₓ of LAD (Gy)"}}}
]},
{"width":221,"height":148,"title":"(L)","data":{"name":"L"},"transform":[{"fold":["T-IMRT","M-IMRT"],"as":["g","v"]},{"flatten":["v"]}],
"layer":[
{"mark":{"type":"rule","strokeDash":[2,2.5],"strokeWidth":1.6,"color":"black"},"encoding":{"y":{"datum":0,"type":"quantitative","title":"△Dₘₑₐₙ of LAD (Gy)"}}},
{"mark":{"type":"point","filled":false,"size":20,"strokeWidth":0.9},"encoding":{"x":{"field":"c","type":"nominal","sort":null,"title":null,"scale":{"paddingInner":0.2,"paddingOuter":0.17}},"xOffset":{"field":"g","type":"nominal","sort":["T-IMRT","M-IMRT"],"scale":{"paddingInner":0.2}},"y":{"field":"v","type":"quantitative","title":"△Dₘₑₐₙ of LAD (Gy)","scale":{"domain":[-20,20],"nice":false,"zero":false},"axis":{"values":[-20,-10,0,10,20]}},"color":{"field":"g","type":"nominal","scale":{"domain":["T-IMRT","M-IMRT"],"range":["#ef3b3b","#1c1cff"]},"legend":{"title":null}},"shape":{"field":"g","type":"nominal","scale":{"domain":["T-IMRT","M-IMRT"],"range":["circle","M0,-1L0,1M-0.87,-0.5L0.87,0.5M-0.87,0.5L0.87,-0.5"]},"legend":{"title":null}}}},
{"mark":{"type":"errorbar","extent":"stdev","color":"#222","ticks":{"size":4},"thickness":1},"encoding":{"x":{"field":"c","type":"nominal","sort":null,"title":null},"xOffset":{"field":"g","type":"nominal","sort":["T-IMRT","M-IMRT"]},"y":{"field":"v","type":"quantitative","title":"△Dₘₑₐₙ of LAD (Gy)"}}},
{"mark":{"type":"tick","color":"black","size":6,"thickness":1.5},"encoding":{"x":{"field":"c","type":"nominal","sort":null,"title":null},"xOffset":{"field":"g","type":"nominal","sort":["T-IMRT","M-IMRT"]},"y":{"aggregate":"mean","field":"v","type":"quantitative","title":"△Dₘₑₐₙ of LAD (Gy)"}}}
]}
],
"config":{
"font":"Liberation Sans",
"view":{"stroke":null},
"axis":{"grid":false,"labelFontWeight":"bold","titleFontWeight":"bold","domainColor":"#7f7f7f","domainWidth":2,"tickColor":"#7f7f7f","labelColor":"black","titleColor":"black"},
"axisY":{"labelFontSize":12,"titleFontSize":10.5,"tickSize":4,"tickWidth":1.5,"titlePadding":3,"labelPadding":2},
"axisX":{"labelAngle":-45,"labelFontSize":5.5,"tickSize":2,"labelPadding":1,"tickWidth":1},
"title":{"fontSize":15,"fontWeight":"bold","offset":-17,"frame":"group","anchor":"middle","color":"black"},
"legend":{"orient":"none","legendX":-16,"legendY":731,"direction":"horizontal","labelFontSize":25,"labelFontWeight":"bold","labelColor":"black","symbolSize":50,"symbolStrokeWidth":1.3,"columnPadding":18,"labelOffset":5}
}
}
